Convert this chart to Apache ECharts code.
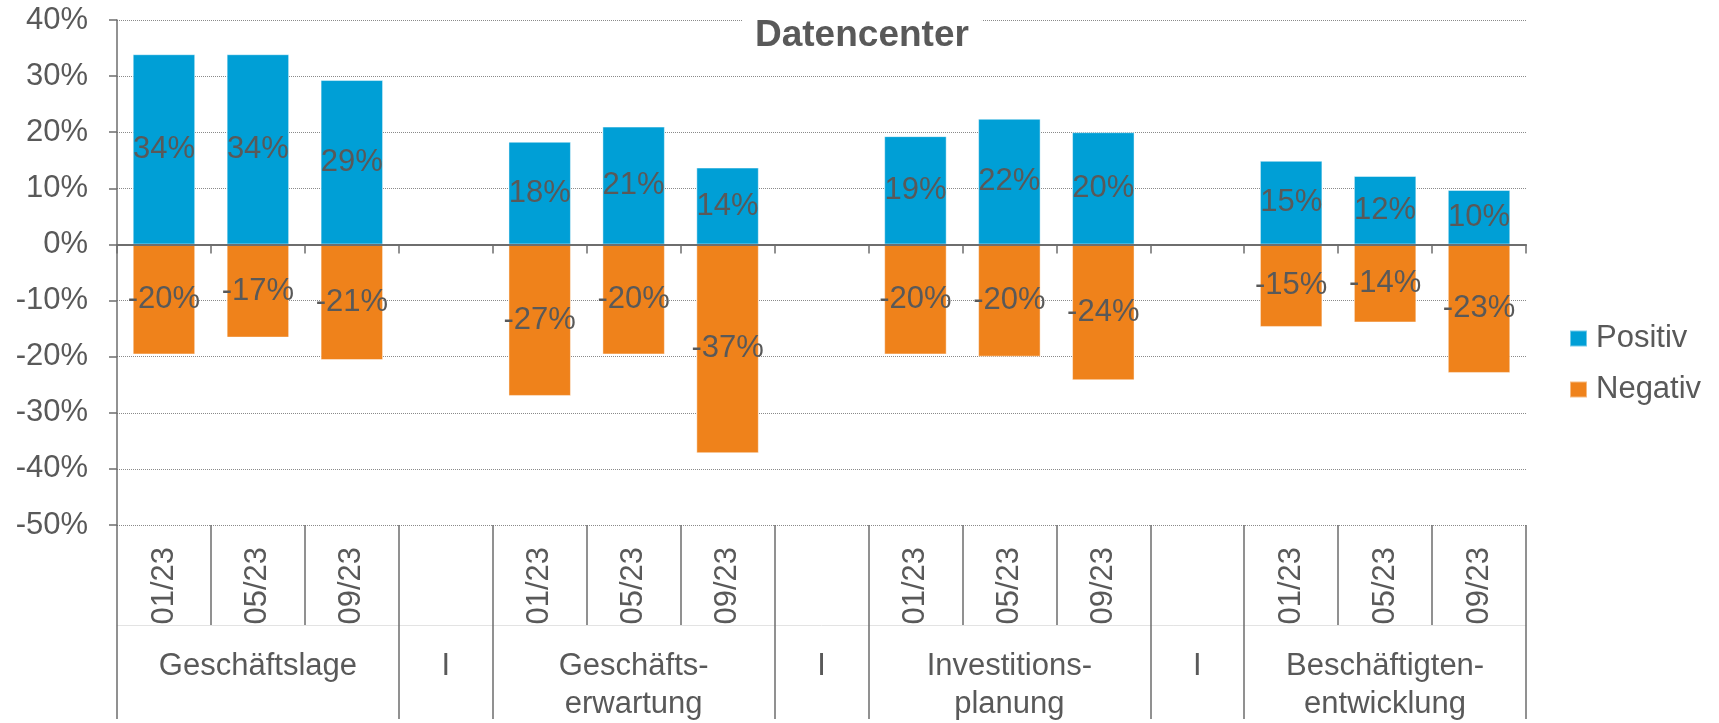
<!DOCTYPE html>
<html>
<head>
<meta charset="utf-8">
<title>Datencenter</title>
<script src="https://cdn.jsdelivr.net/npm/echarts@6/dist/echarts.min.js"></script>
<style>
  html, body { margin: 0; padding: 0; background: #fff; }
  #chart { width: 1719px; height: 723px; }
</style>
</head>
<body>
<div id="chart"></div>
<script>
// Kategorien: je Gruppe drei Befragungen, dazwischen eine leere Trennspalte
var dates = ["01/23", "05/23", "09/23", "", "01/23", "05/23", "09/23", "", "01/23", "05/23", "09/23", "", "01/23", "05/23", "09/23"];
var groups = ["", "Geschäftslage", "", "I", "", "Geschäfts-\nerwartung", "", "I", "", "Investitions-\nplanung", "", "I", "", "Beschäftigten-\nentwicklung", ""];
// Gruppengrenzen (Index der Kategorie, an deren linkem Rand ein langer Strich steht)
var groupBounds = [0, 3, 4, 7, 8, 11, 12];

// Werte in %
var positiv = [33.9, 33.9, 29.3, null, 18.3, 21.0, 13.7, null, 19.3, 22.4, 20.0, null, 14.9, 12.2, 9.7];
var negativ = [-19.6, -16.6, -20.6, null, -27.0, -19.6, -37.2, null, -19.6, -20.0, -24.2, null, -14.7, -13.9, -22.9];

var FONT = "'Liberation Sans', Arial, sans-serif";
var TEXT = "#595959";
var AXIS = "#6e6e6e";

var chart = echarts.init(document.getElementById("chart"));

function valueLabel(p) {
  return Math.round(p.value) + "%";
}

chart.setOption({
  animation: false,
  textStyle: { fontFamily: FONT },
  title: {
    text: "Datencenter",
    left: 742,
    top: 15,
    padding: [2, 13],
    backgroundColor: "#fff",
    textStyle: { fontFamily: FONT, fontSize: 37, fontWeight: "bold", color: TEXT }
  },
  legend: {
    data: ["Positiv", "Negativ"],
    orient: "vertical",
    left: 1564,
    top: 318,
    icon: "rect",
    itemWidth: 17,
    itemHeight: 16,
    itemGap: 20,
    textStyle: { fontFamily: FONT, fontSize: 31, color: TEXT, padding: [0, 0, 0, 4] }
  },
  grid: { left: 117, right: 193, top: 20, bottom: 194 },
  yAxis: {
    type: "value",
    min: -50,
    max: 40,
    interval: 10,
    axisLine: { show: true, lineStyle: { color: AXIS, width: 1.5 } },
    axisTick: { show: true, length: 8, lineStyle: { color: AXIS, width: 1.5 } },
    axisLabel: { formatter: "{value}%", fontSize: 31, color: TEXT, margin: 29, fontFamily: FONT },
    splitLine: { lineStyle: { color: "#8a8a8a", type: "dotted", width: 1 } }
  },
  xAxis: [
    {
      // Datumsachse
      type: "category",
      data: dates,
      position: "bottom",
      axisLine: { show: false, onZero: false },
      axisTick: { show: true, interval: 0, length: 100, lineStyle: { color: AXIS, width: 1.5 } },
      axisLabel: { interval: 0, rotate: 90, margin: 22, fontSize: 31, color: TEXT, fontFamily: FONT }
    },
    {
      // Gruppenachse
      type: "category",
      data: groups,
      position: "bottom",
      axisLine: { show: false, onZero: false },
      axisTick: {
        show: true,
        interval: function (index) { return groupBounds.indexOf(index) >= 0; },
        length: 194,
        lineStyle: { color: AXIS, width: 1.5 }
      },
      axisLabel: { interval: 0, margin: 122, fontSize: 31, lineHeight: 38, color: TEXT, fontFamily: FONT }
    },
    {
      // Nulllinie
      type: "category",
      data: dates,
      position: "bottom",
      z: 5,
      axisLine: { show: true, onZero: true, lineStyle: { color: AXIS, width: 2 } },
      axisTick: { show: true, interval: 0, length: 9, lineStyle: { color: AXIS, width: 1.5 } },
      axisLabel: { show: false }
    },
    {
      // feine Trennlinie unter den Datumsangaben
      type: "category",
      data: dates,
      position: "bottom",
      offset: 100,
      axisLine: { show: true, onZero: false, lineStyle: { color: "#e3e3e3", width: 1 } },
      axisTick: { show: false },
      axisLabel: { show: false }
    }
  ],
  series: [
    {
      name: "Positiv",
      type: "bar",
      data: positiv,
      barWidth: "66.5%",
      barGap: "-100%",
      itemStyle: { color: "#009fd6", borderColor: "rgba(255,255,255,0.45)", borderWidth: 1 },
      label: { show: true, position: "inside", formatter: valueLabel, fontSize: 31, color: TEXT, fontFamily: FONT }
    },
    {
      name: "Negativ",
      type: "bar",
      data: negativ,
      barWidth: "66.5%",
      barGap: "-100%",
      itemStyle: { color: "#ef821b", borderColor: "rgba(255,255,255,0.45)", borderWidth: 1 },
      label: { show: true, position: "inside", formatter: valueLabel, fontSize: 31, color: TEXT, fontFamily: FONT }
    }
  ]
});
</script>
</body>
</html>
